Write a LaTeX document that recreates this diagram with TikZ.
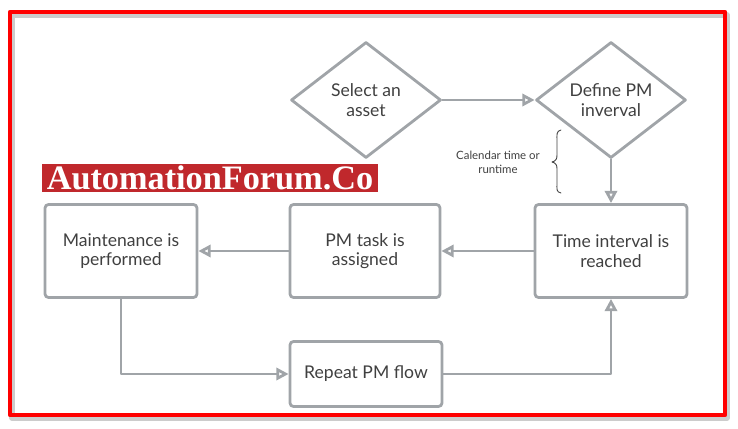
\documentclass[tikz,border=0pt]{standalone}
\usepackage{fontspec}
\setmainfont{Lato}
\newfontfamily\markfont{Liberation Serif}
\usetikzlibrary{arrows.meta,shapes.geometric}

\definecolor{flowgray}{HTML}{A0A4A8}
\definecolor{flowtext}{HTML}{404040}
\definecolor{markred}{HTML}{C0282C}

\begin{document}
\begin{tikzpicture}[
    x=0.02cm,
    y=-0.02cm,
    line cap=round,
    line join=round,
    flowbox/.style={
        draw=flowgray,
        line width=1.6pt,
        rounded corners=2pt,
        text=flowtext,
        align=center,
        font=\fontsize{10}{11}\selectfont
    },
    flowdiamond/.style={
        draw=flowgray,
        line width=1.6pt,
        diamond,
        minimum width=150*0.02cm,
        minimum height=116*0.02cm,
        inner sep=0pt,
        text=flowtext,
        align=center,
        font=\fontsize{10}{11}\selectfont
    },
    flowarrow/.style={
        draw=flowgray,
        line width=1.6pt,
        -{Triangle[open,length=7pt,width=7pt]}
    }
]
\useasboundingbox (0,0) rectangle (738,429);

% -------------------------------------------------
% Red frame
% -------------------------------------------------

\draw[black!20,line width=3pt] (12,15) rectangle (727,418);
\draw[red,line width=2.4pt] (10,12) rectangle (725,415);

% -------------------------------------------------
% Diamonds
% -------------------------------------------------

\node[flowdiamond] (select) at (366,100) {Select an\\asset};
\node[flowdiamond] (define) at (611,100) {Define PM\\inverval};

% -------------------------------------------------
% Boxes
% -------------------------------------------------

\node[flowbox,minimum width=152*0.02cm,minimum height=93*0.02cm]
    (reached) at (611,251) {Time interval is\\reached};
\node[flowbox,minimum width=150*0.02cm,minimum height=93*0.02cm]
    (assigned) at (365,251) {PM task is\\assigned};
\node[flowbox,minimum width=152*0.02cm,minimum height=93*0.02cm]
    (performed) at (121,251) {Maintenance is\\performed};
\node[flowbox,minimum width=152*0.02cm,minimum height=65*0.02cm]
    (repeat) at (366,374) {Repeat PM flow};

% -------------------------------------------------
% Note with brace
% -------------------------------------------------

\node[text=flowtext,align=center,font=\fontsize{6.5}{8}\selectfont]
    (note) at (498,162) {Calendar time or\\runtime};
\draw[flowtext,line width=0.5pt]
    (561,130) .. controls (556,131) and (557,135) .. (557,141)
    -- (557,155) .. controls (557,159) and (556,161) .. (552,162)
    .. controls (556,163) and (557,165) .. (557,169)
    -- (557,183) .. controls (557,189) and (556,192) .. (561,193);

% -------------------------------------------------
% Connectors
% -------------------------------------------------

\draw[flowarrow] (select.east) -- (define.west);
\draw[flowarrow] (define.south) -- (reached.north);
\draw[flowarrow] (reached.west) -- (assigned.east);
\draw[flowarrow] (assigned.west) -- (performed.east);
\draw[flowarrow] (performed.south) |- (repeat.west);
\draw[flowarrow] (repeat.east) -| (reached.south);

% -------------------------------------------------
% Watermark
% -------------------------------------------------

\node[fill=markred,text=white,inner xsep=3pt,inner ysep=1pt,
      font=\markfont\bfseries\fontsize{19.5}{21}\selectfont]
    (mark) at (210,178) {AutomationForum.Co};

\end{tikzpicture}
\end{document}
